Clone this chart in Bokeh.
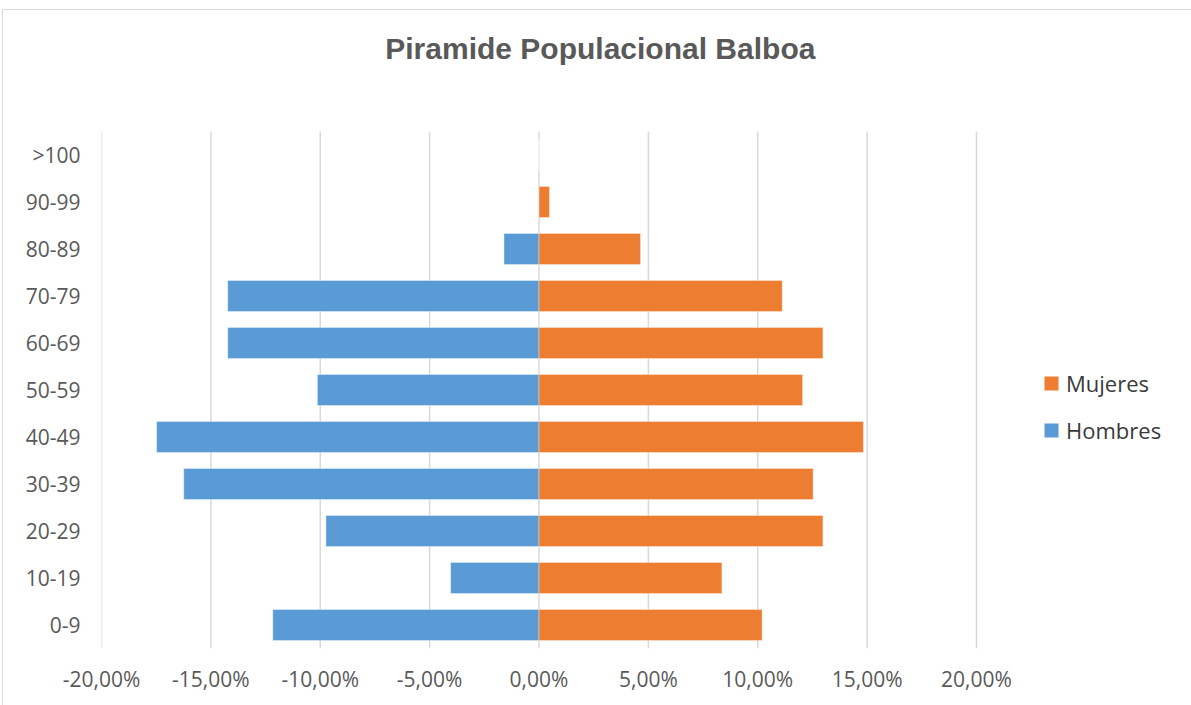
from bokeh.plotting import figure
from bokeh.models import (ColumnDataSource, Range1d, FixedTicker,
                          Legend, LegendItem, Label)
from bokeh.embed import file_html
from bokeh.resources import INLINE

# ---- data (percent of population) ----
age_groups = ["0-9", "10-19", "20-29", "30-39", "40-49", "50-59",
              "60-69", "70-79", "80-89", "90-99", ">100"]
hombres = [12.17, 4.04, 9.74, 16.24, 17.48, 10.13, 14.23, 14.23, 1.60, 0.0, 0.0]
mujeres = [10.20, 8.36, 12.98, 12.53, 14.83, 12.05, 12.98, 11.12, 4.64, 0.48, 0.0]
x_ticks = [-20, -15, -10, -5, 0, 5, 10, 15, 20]
x_tick_labels = ["-20,00%", "-15,00%", "-10,00%", "-5,00%", "0,00%",
                 "5,00%", "10,00%", "15,00%", "20,00%"]
title_text = "Piramide Populacional  Balboa"

BLUE = "#5B9BD5"
ORANGE = "#ED7D31"
LABEL = "#595959"
FONT = "Open Sans"

# ---- layout (pixels) ----
W, H = 1188, 695            # figure canvas (placed at page offset 3,10)
LEFT, BOTTOM = 98, 57       # borders holding the axis labels
PLOT_W = 875                # width of the -20%..20% plot area
BAND = 47                   # pixel height of one age band
n = len(age_groups)
frame_w = W - LEFT
frame_h = H - BOTTOM
px_per_x = PLOT_W / (x_ticks[-1] - x_ticks[0])
y_top = n - 0.5 + (frame_h - n * BAND) / BAND
x_right = x_ticks[-1] + (frame_w - PLOT_W) / px_per_x

idx = list(range(n))
src = ColumnDataSource(dict(
    y=idx,
    h_left=[-v for v in hombres],
    zero=[0] * n,
    m_right=mujeres,
))

p = figure(width=W, height=H, output_backend="svg", toolbar_location=None,
           x_range=Range1d(x_ticks[0], x_right), y_range=Range1d(-0.5, y_top),
           min_border_left=LEFT, min_border_right=0,
           min_border_top=0, min_border_bottom=BOTTOM,
           margin=(10, 0, 0, 3),
           styles={"outline": "1px solid #d9d9d9"})
p.outline_line_color = None
p.background_fill_color = "white"
p.border_fill_color = "white"
p.xgrid.grid_line_color = None
p.ygrid.grid_line_color = None

# vertical gridlines across the age bands only
p.segment(x0=x_ticks, x1=x_ticks, y0=[-0.5] * len(x_ticks),
          y1=[n - 0.5] * len(x_ticks), line_color="#d9d9d9", line_width=1.5)

rh = p.hbar(y="y", left="h_left", right="zero", height=0.66, source=src,
            fill_color=BLUE, line_color="white", line_alpha=0.35, line_width=1)
rm = p.hbar(y="y", left="zero", right="m_right", height=0.66, source=src,
            fill_color=ORANGE, line_color="white", line_alpha=0.35, line_width=1)

# axes
xa = p.xaxis[0]
xa.ticker = FixedTicker(ticks=x_ticks)
xa.major_label_overrides = {t: l for t, l in zip(x_ticks, x_tick_labels)}
xa.axis_line_color = None
xa.major_tick_line_color = None
xa.minor_tick_line_color = None
xa.major_tick_out = 0
xa.major_label_standoff = 16
xa.major_label_text_font = FONT
xa.major_label_text_font_size = "21px"
xa.major_label_text_color = LABEL

ya = p.yaxis[0]
ya.ticker = FixedTicker(ticks=idx)
ya.major_label_overrides = {i: g for i, g in zip(idx, age_groups)}
ya.axis_line_color = None
ya.major_tick_line_color = None
ya.minor_tick_line_color = None
ya.major_tick_out = 0
ya.major_label_standoff = 21
ya.major_label_text_font = FONT
ya.major_label_text_font_size = "21px"
ya.major_label_text_color = LABEL

# title (centred on the chart area)
title_cx = x_ticks[0] + (604 - 3 - LEFT) / px_per_x
title_y = -0.5 + (frame_h - 38) / BAND
p.add_layout(Label(x=title_cx, y=title_y, text=title_text,
                   text_align="center", text_baseline="alphabetic",
                   text_font="Liberation Sans", text_font_style="bold",
                   text_font_size="30px", text_color=LABEL))

# legend
legend = Legend(items=[LegendItem(label="Mujeres", renderers=[rm]),
                       LegendItem(label="Hombres", renderers=[rh])],
                location=(941, 203), orientation="vertical",
                label_text_font=FONT, label_text_font_size="22px",
                label_text_color="#3a3a3a", glyph_width=18, glyph_height=18,
                label_height=22, spacing=17, padding=0, margin=0,
                label_standoff=6, border_line_alpha=0,
                background_fill_alpha=0)
p.add_layout(legend, "center")

open("out.html", "w").write(file_html(p, INLINE))
